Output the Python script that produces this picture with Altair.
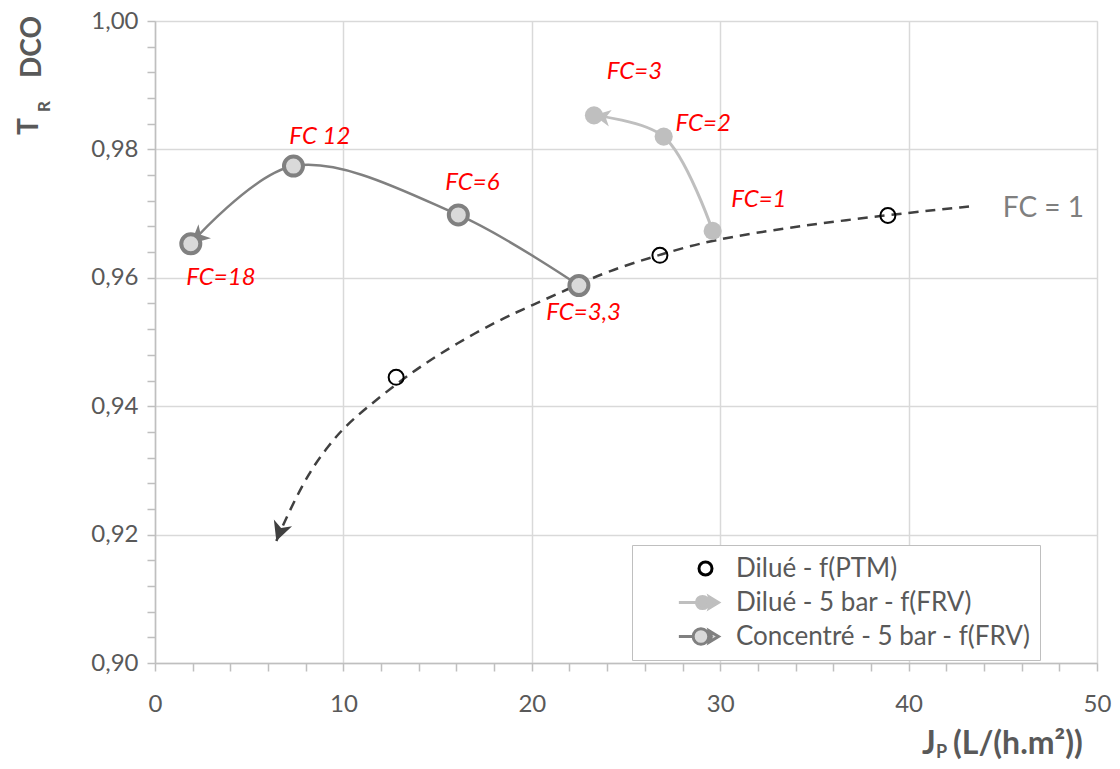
import altair as alt
import pandas as pd

# ---------------- data ----------------
series_names = ["Dilué - f(PTM)", "Dilué - 5 bar - f(FRV)", "Concentré - 5 bar - f(FRV)"]

# Dilué - f(PTM) (open circles)
ptm_x = [12.8, 26.8, 38.9]
ptm_y = [0.9445, 0.9635, 0.9697]

# dashed trend curve (FC = 1)
trend_x = [6.44, 6.97, 8.2, 9.26, 10.0, 11.2, 12.87, 14.2, 15.96, 18.25, 20.0, 21.96,
           24.07, 26.8, 29.5, 34.0, 38.9, 43.5]
trend_y = [0.9190, 0.9227, 0.9299, 0.9340, 0.9366, 0.9397, 0.9436, 0.9464, 0.9497, 0.9534,
           0.9557, 0.9583, 0.9611, 0.9636, 0.9659, 0.9680, 0.9698, 0.9712]

# Dilué - 5 bar - f(FRV)
dil_x = [29.6, 27.0, 23.3]
dil_y = [0.9673, 0.9820, 0.9853]

# Concentré - 5 bar - f(FRV)
con_x = [22.5, 16.1, 7.35, 1.9]
con_y = [0.9588, 0.9698, 0.9774, 0.9653]

# red annotations
label_text = ["FC=3", "FC=2", "FC=1", "FC 12", "FC=6", "FC=18", "FC=3,3"]
label_x = [25.45, 29.1, 32.05, 8.75, 16.85, 3.5, 22.75]
label_y = [0.9920, 0.9839, 0.9721, 0.9820, 0.9748, 0.9599, 0.9545]

trend_label = ["FC = 1"]
trend_label_x = [47.15]
trend_label_y = [0.9707]

x_ticks = list(range(0, 51, 2))
y_ticks = [round(0.9 + 0.004 * i, 3) for i in range(26)]

# ---------------- styling ----------------
FONT = "Lato"
GREY_TXT = "#595959"
GRID = "#D9D9D9"
AXIS = "#BFBFBF"

xaxis = alt.Axis(
    values=x_ticks,
    labelExpr="datum.value % 10 === 0 ? datum.label : ''",
    grid=True, gridColor=GRID, gridWidth=1.5,
    gridOpacity={"condition": {"test": "datum.value % 10 === 0", "value": 1}, "value": 0},
    domainColor=AXIS, domainWidth=1.5, tickColor=AXIS, tickWidth=1.5, tickSize=8,
    labelFont=FONT, labelFontSize=24, labelColor=GREY_TXT, labelPadding=21,
    labelOverlap=False, labelFlush=False, title=None,
)
major_y = "abs(datum.value*50 - round(datum.value*50)) < 1e-6"
yaxis = alt.Axis(
    values=y_ticks,
    labelExpr=major_y + " ? replace(format(datum.value, '.2f'), '.', ',') : ''",
    grid=True, gridColor=GRID, gridWidth=1.5,
    gridOpacity={"condition": {"test": major_y, "value": 1}, "value": 0},
    domainColor=AXIS, domainWidth=1.5, tickColor=AXIS, tickWidth=1.5, tickSize=8,
    labelFont=FONT, labelFontSize=24, labelColor=GREY_TXT, labelPadding=9,
    labelOverlap=False, labelFlush=False, title=None,
)
xs = alt.Scale(domain=[0, 50], nice=False, zero=False)
ys = alt.Scale(domain=[0.9, 1.0], nice=False, zero=False)
X = alt.X("x:Q", scale=xs, axis=xaxis)
Y = alt.Y("y:Q", scale=ys, axis=yaxis)

ARROW = "M0,0 L0.5,1 L0,0.72 L-0.5,1 Z"

# ---------------- frames ----------------
ptm_df = pd.DataFrame({"x": ptm_x, "y": ptm_y})
trend_df = pd.DataFrame({"x": trend_x, "y": trend_y})
dil_df = pd.DataFrame({"x": dil_x, "y": dil_y, "i": list(range(len(dil_x)))})
con_df = pd.DataFrame({"x": con_x, "y": con_y, "i": list(range(len(con_x)))})
lab_df = pd.DataFrame({"x": label_x, "y": label_y, "t": label_text})
tl_df = pd.DataFrame({"x": trend_label_x, "y": trend_label_y, "t": trend_label})

trend_line = alt.Chart(trend_df).mark_line(
    color="#404040", strokeWidth=2.5, strokeDash=[10, 7], interpolate="basis"
).encode(x=X, y=Y)
trend_arrow = alt.Chart(trend_df.iloc[[0]]).mark_point(
    shape=ARROW, filled=True, color="#404040", size=1500, angle=200, opacity=1
).encode(x=X, y=Y)
ptm_pts = alt.Chart(ptm_df).mark_point(
    shape="circle", filled=False, color="#000000", size=225, strokeWidth=2, opacity=1
).encode(x=X, y=Y)

dil_line = alt.Chart(dil_df).mark_line(
    color="#BFBFBF", strokeWidth=3, interpolate="catmull-rom"
).encode(x=X, y=Y, order="i:Q")
dil_arrow = alt.Chart(dil_df.iloc[[-1]]).mark_point(
    shape=ARROW, filled=True, color="#BFBFBF", size=1100, angle=280, opacity=1
).encode(x=X, y=Y)
dil_pts = alt.Chart(dil_df).mark_point(
    shape="circle", filled=True, color="#BFBFBF", size=330, opacity=1
).encode(x=X, y=Y)

con_line = alt.Chart(con_df).mark_line(
    color="#808080", strokeWidth=2.5, interpolate="catmull-rom"
).encode(x=X, y=Y, order="i:Q")
con_arrow = alt.Chart(con_df.iloc[[-1]]).mark_point(
    shape=ARROW, filled=True, color="#808080", size=1400, angle=228, opacity=1
).encode(x=X, y=Y)
con_pts = alt.Chart(con_df).mark_point(
    shape="circle", filled=True, fill="#D9D9D9", stroke="#808080", strokeWidth=4,
    size=361, opacity=1
).encode(x=X, y=Y)

labels = alt.Chart(lab_df).mark_text(
    font=FONT, fontSize=24, fontStyle="italic", color="#FF0000", align="center", baseline="middle"
).encode(x=X, y=Y, text="t:N")
tlabel = alt.Chart(tl_df).mark_text(
    font=FONT, fontSize=28, color="#7F7F7F", align="center", baseline="middle"
).encode(x=X, y=Y, text="t:N")

# legend (native legend, symbols drawn as custom paths)
def circ(cx, r):
    return (f"M{cx + r},0 A{r},{r} 0 1,1 {cx - r},0 "
            f"A{r},{r} 0 1,1 {cx + r},0 Z")
arrow_r = "M1,0 L0.3,-0.42 L0.45,0 L0.3,0.42 Z"
leg_paths = [
    circ(0, 0.5),
    f"M-2.05,0 L-0.7,0 M0.24,0 L0.4,0 " + circ(-0.23, 0.47) + " " + arrow_r,
    f"M-2.05,0 L-0.95,0 M0.25,0 L0.4,0 " + circ(-0.35, 0.6) + " " + arrow_r,
]
leg = alt.Legend(
    title=None, orient="none", legendX=477, legendY=524,
    fillColor="white", strokeColor="#BFBFBF", padding=9,
    symbolOffset=50, symbolSize=676, symbolStrokeWidth=3,
    labelFont=FONT, labelFontSize=26, labelColor=GREY_TXT, labelOffset=16,
    rowPadding=6, labelLimit=0,
)
leg_df = pd.DataFrame({"series": series_names, "x": [0.0] * 3, "y": [0.9] * 3})
legend_layer = alt.Chart(leg_df).transform_filter("false").mark_point(filled=True, opacity=1).encode(
    x=X, y=Y,
    shape=alt.Shape("series:N", scale=alt.Scale(domain=series_names, range=leg_paths), legend=leg),
    fill=alt.Fill("series:N", scale=alt.Scale(domain=series_names,
                  range=["transparent", "#BFBFBF", "#D9D9D9"]), legend=leg),
    stroke=alt.Stroke("series:N", scale=alt.Scale(domain=series_names,
                      range=["#000000", "#BFBFBF", "#808080"]), legend=leg),
)

# axis titles with subscripts
one = pd.DataFrame({"a": [0]})
def ttl(text, x, y, size, angle=0):
    kw = dict(font=FONT, fontSize=size, fontWeight="bold", color=GREY_TXT,
              align="left", baseline="alphabetic")
    if angle:
        kw["angle"] = angle
    return alt.Chart(one).mark_text(**kw).encode(
        x=alt.value(x), y=alt.value(y), text=alt.value(text))

titles = [
    ttl("T", -117, 114, 28, 270),
    ttl("R", -105, 91, 17, 270),
    ttl("DCO", -114, 57, 28, 270),
    ttl("J", 767, 733, 32),
    ttl("P", 781, 737, 18),
    ttl("(L/(h.m²))", 798, 733, 32),
]

chart = alt.layer(
    trend_line, ptm_pts, trend_arrow,
    dil_line, dil_arrow, dil_pts,
    con_line, con_arrow, con_pts,
    labels, tlabel, legend_layer, *titles
).properties(
    width=942, height=642,
    autosize=alt.AutoSizeParams(type="none"),
    padding={"left": 147, "top": 13, "right": 15, "bottom": 98},
).configure_view(stroke=None).configure(background="white")

chart.save("out.html", embed_options={"renderer": "svg", "actions": False})
